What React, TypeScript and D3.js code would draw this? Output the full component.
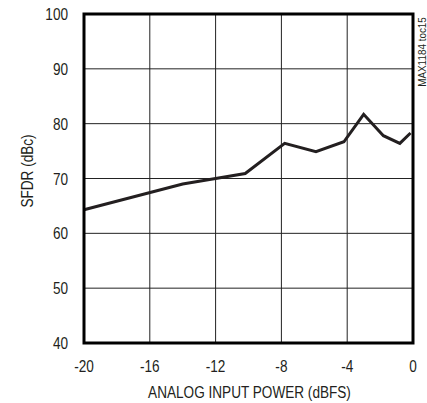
import React, { useRef, useEffect } from 'react';
import * as d3 from 'd3';

// SFDR vs analog input power
const inputPower = [-20, -14, -12, -10.2, -7.8, -5.9, -4.2, -3.0, -1.8, -0.8, -0.15];
const sfdr = [64.3, 69.0, 70.0, 70.9, 76.4, 74.9, 76.7, 81.7, 77.8, 76.4, 78.3];

const xTicks = [-20, -16, -12, -8, -4, 0];
const yTicks = [40, 50, 60, 70, 80, 90, 100];

const FONT = '"Liberation Sans", Arial, sans-serif';
const SQUEEZE = 0.8; // no narrow face installed, so condense by hand

const App: React.FC = () => {
    const svgRef = useRef<SVGSVGElement>(null);

    useEffect(() => {
        if (!svgRef.current) return;
        const svg = d3.select(svgRef.current);
        svg.selectAll("*").remove();

        const left = 84, right = 413, top = 14, bottom = 343;

        const x = d3.scaleLinear().domain([-20, 0]).range([left, right]);
        const y = d3.scaleLinear().domain([40, 100]).range([bottom, top]);

        // Grid
        svg.append("g")
            .selectAll("line")
            .data(xTicks.slice(1, -1))
            .enter()
            .append("line")
            .attr("x1", (d: number) => x(d))
            .attr("x2", (d: number) => x(d))
            .attr("y1", top)
            .attr("y2", bottom)
            .attr("stroke", "#222")
            .attr("stroke-width", 1);

        svg.append("g")
            .selectAll("line")
            .data(yTicks.slice(1, -1))
            .enter()
            .append("line")
            .attr("x1", left)
            .attr("x2", right)
            .attr("y1", (d: number) => y(d))
            .attr("y2", (d: number) => y(d))
            .attr("stroke", "#222")
            .attr("stroke-width", 1);

        // Data line
        const line = d3.line<number>()
            .x((_d: number, i: number) => x(inputPower[i]))
            .y((d: number) => y(d));

        svg.append("path")
            .datum(sfdr)
            .attr("d", line)
            .attr("fill", "none")
            .attr("stroke", "#231f20")
            .attr("stroke-width", 3)
            .attr("stroke-linejoin", "miter");

        // Frame
        svg.append("rect")
            .attr("x", left)
            .attr("y", top)
            .attr("width", right - left)
            .attr("height", bottom - top)
            .attr("fill", "none")
            .attr("stroke", "#000")
            .attr("stroke-width", 3);

        // Tick labels
        svg.append("g")
            .selectAll("text")
            .data(yTicks)
            .enter()
            .append("text")
            .attr("transform", (d: number) => `translate(68,${y(d) + 6}) scale(${SQUEEZE},1)`)
            .attr("text-anchor", "end")
            .attr("font-family", FONT)
            .attr("font-size", 17)
            .attr("fill", "#231f20")
            .text((d: number) => d);

        svg.append("g")
            .selectAll("text")
            .data(xTicks)
            .enter()
            .append("text")
            .attr("transform", (d: number) => `translate(${x(d)},372) scale(${SQUEEZE},1)`)
            .attr("text-anchor", "middle")
            .attr("font-family", FONT)
            .attr("font-size", 17)
            .attr("fill", "#231f20")
            .text((d: number) => d);

        // Axis titles
        svg.append("text")
            .attr("transform", `translate(${(left + right) / 2 + 1},398) scale(${SQUEEZE},1)`)
            .attr("text-anchor", "middle")
            .attr("font-family", FONT)
            .attr("font-size", 17)
            .attr("fill", "#231f20")
            .text("ANALOG INPUT POWER (dBFS)");

        svg.append("text")
            .attr("transform", `translate(33,171) rotate(-90) scale(${SQUEEZE},1)`)
            .attr("text-anchor", "middle")
            .attr("font-family", FONT)
            .attr("font-size", 17)
            .attr("fill", "#231f20")
            .text("SFDR (dBc)");

        svg.append("text")
            .attr("transform", "translate(426,52) rotate(-90) scale(0.9,1)")
            .attr("text-anchor", "middle")
            .attr("font-family", FONT)
            .attr("font-size", 11)
            .attr("fill", "#231f20")
            .text("MAX1184 toc15");
    }, []);

    return (
        <svg
            ref={svgRef}
            width={427}
            height={403}
            style={{ position: 'absolute', left: 0, top: 0, background: '#fff' }}
        />
    );
};

export default App;
